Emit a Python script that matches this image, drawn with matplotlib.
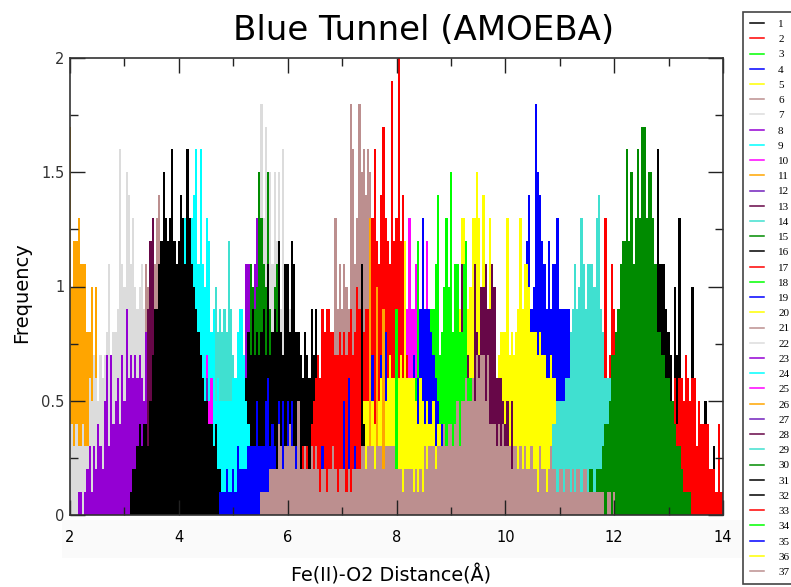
"""Blue Tunnel (AMOEBA) window histograms, Fe(II)-O2 distance."""
import numpy as np
import matplotlib
matplotlib.use("Agg")
import matplotlib.pyplot as plt
from matplotlib.lines import Line2D
from matplotlib.patches import Rectangle

### Counts per 0.04 A bin, one count is a frequency of 0.1
bin_width = 0.04
freq_unit = 0.1

freq_01 = [4,5,9,16,11,11,11,9,8,7,5,10,7,13,5,3,4,3,4,10,3,2,2,4,3,5,2,1,2,3]
freq_02 = [0,5,6,13,6,7,11,9,7,9,11,6,3,0,0,0,0,0,0,0,0,0,0,0,0,0,0,0,0,0,0,0,0,2,3,6,4,6,6,5,7,6,5,6,6,3,5,4,4,4,4,2,2,2,1,4,1,1]
freq_03 = [5,7,6]
freq_04 = [2,3,5,12,14,9,10,18,15,14,12,11,9,12,9,11,11,13,9,9,9,9,9,8,5,2]
freq_05 = [5,4,5,5,6,6,7,7,8,9,13,13,9,9,10,13,13,15,13,10,14,9,8,13,7,5,5,7,8,8,8,13,7,8,7,8,9,13,9,11,11,10,8,8,8,7,8,7,7,6,6,7,6,6,5,4,3,3,2,1]
freq_06 = [6,13,9,11,9,11,10,9,18,16,11,13,18,15,16,14,16,15,13,12,10,9,7,5]
freq_07 = [4,6,7,9,11,18,13,17,13,15,11,15,12,15,9,16,8,10,9,8,7,6,4,3]
freq_08 = [11,11,7,4,11,13,11,5,3,6,2]
freq_09 = [4,3,2]
freq_10 = [6,9,13,9,9,11,9,7,5,6,12,3]
freq_11 = [17,10,12,12,13,11,11,11,8,8,10,7,10,5,7,4,3,2,3,1]
freq_12 = [12,3,0,5]
freq_13 = [11,1,1,7,4,5,11,8,7,10,10,11,9,9,11,10,6,6,6,5,4,5,3,5,3]
freq_14 = [7,8,8,10,8,9,8,9,8,12,9,7,5,4]
freq_15 = [3,5,8,11,10,9,10,15,13,11,10,15,9,8,10,11,9,7,5,8,6,5,2]
freq_16 = [2,6,8,7,9,7,8,7,8,9,7,11,7,8,9,8,12,8,7,11,11,8,12,11,8,8,7,6,8,7,6,9,7,9,6,5,3,2]
freq_17 = [3,1,3,2,4,5,6,7,6,9,8,9,9,8,8,7,7,8,7,8,7,8,9,7,8,10,9,9,8,9,9,12,13,16,12,11,14,17,13,12,11,19,12,13,20,12,14,9,7,5,3]
freq_18 = [6,12,5,6,7,7,8,9,9,11,14,7,8,10,13,10,15,8,11,11,8,8,11,12,6,6,6,4]
freq_19 = [0,0,5,0,6,0,0,3,0,0,0,0,0,0,0,7,0,0,0,7,0,8,0,0,0,0,0,0,0,0,0,0,3,4,7,5,6,9,13,9,9,9,8,7,6,5,4,4,4,3,2,1]
freq_20 = [3,5,5,5,5,5,4,5,5,6,5,5,6,7,6,6,7,6,7,6,12,6,6,6,6,5,4,6,5,4,5,4,4,5,3,4,4,3,3,2,2]
freq_21 = [10,11,9,11,10,11,10,11,13,14,12,9,7]
freq_22 = [4,4,3,4,3,3,4,3,3,6,5,7,6,5,7,6,7,8,11,7,8,8,9,16,11,10,15,14,11,13,10,9,10,11,9,8,8,6,6,5,4,3]
freq_23 = [1,1,0,1,2,3,1,3,2,4,3,2,5,7,3,7,4,5,6,4,7,5,9,6,7,6,7,6,7,6,5,8,6,10,7,6,5]
freq_24 = [9,14,11,13,15,12,13,14,16,11,16,11,10,13,12,8,9,5,6,5,5,5,5,5,5,6,6,8,9,9,7,5,4,3,1]
freq_25 = [7,5,6]
freq_26 = [13,0,0,10,0,0,9]
freq_27 = [5,7,3,0,6,4]
freq_28 = [9,12,13,8,4]
freq_29 = [1,2,4,4,5,5,5,5,6,6,8,9,11,9,10,13,11,9,11,11,11,10,13,14,9,8,6,6,6,5,2]
freq_30 = [2,2,1,2,2,2,3,4,4,5,7,7,8,9,11,12,12,16,12,15,11,13,16,13,17,17,13,15,15,13,11,8,8,7,7,6,6,5,5,4,3,3,2,1,1,1,1]
freq_31 = [1,2,2,3,4,3,4,4,3,5,7,9,9,11,12,15,13,12,13,16,12,11,12,14,13,11,16,13,11,10,9,8,7,6,5,5,4,4,3,4,2,2]
freq_32 = [11,4]
freq_33 = [5,6,7,6,8,7,6,7]
freq_34 = [9,2]
freq_35 = [1,1,1,2,1,1,2,1,3,2,2,2,2,3,3,3,3,5,3,3,3,5,6,3,4,3,2,5,3,5,2,5,2,5,3,3,1,1,2,1,1,1,0,2,1,1,0,3,1]
freq_36 = [2,3,4,3]
freq_37 = [1,1,1,1,2,2,2,2,4,3,2,3,3,4,3,3,2,5,2,2,3,2,2,3,2,3,2,1,2,2,1,2,2,3,2,1,2,2,2,1,2,1,2,2,2,2,3,3,2,3,3,3,2,3,3,3,2,3,3,3,3,3,
           2,2,2,1,2,2,2,2,1,2,1,2,1,3,2,3,3,3,2,3,3,3,4,3,4,4,3,4,5,3,5,5,6,5,5,6,5,7,6,7,7,5,7,4,4,4,3,4,3,4,3,3,3,2,3,3,2,3,2,3,2,2,3,2,2,1,3,2,2,1,2,3,2,2,1,2,2,1,2,2,1,2,1,2,2,1,2,2,1,1,1,1,1,1,1,1,0,1,1,0,1]

all_freq = [freq_01, freq_02, freq_03, freq_04, freq_05, freq_06, freq_07, freq_08, freq_09,
            freq_10, freq_11, freq_12, freq_13, freq_14, freq_15, freq_16, freq_17, freq_18,
            freq_19, freq_20, freq_21, freq_22, freq_23, freq_24, freq_25, freq_26, freq_27,
            freq_28, freq_29, freq_30, freq_31, freq_32, freq_33, freq_34, freq_35, freq_36, freq_37]

# distance of the first bin of each window
start_dist = [12.68, 11.72, 9.0, 10.28, 8.8, 6.84, 5.32, 5.24, 4.88, 8.16, 2.0, 3.04, 9.2,
              4.56, 5.2, 5.2, 6.28, 8.36, 6.96, 7.36, 3.28, 2.0, 2.16, 4.0, 4.52, 7.52, 4.36,
              3.44, 10.8, 11.56, 3.12, 7.36, 6.6, 8.0, 4.76, 8.4, 5.52]

series_labels = [str(i) for i in range(1, 38)]
x_ticks = [2, 4, 6, 8, 10, 12, 14]
y_ticks = [0, 0.5, 1, 1.5, 2]
y_tick_labels = ["0", "0.5", "1", "1.5", "2"]

grace_colors = ["#000000", "#ff0000", "#00ff00", "#0000ff", "#ffff00", "#bc8f8f", "#dcdcdc",
                "#9400d3", "#00ffff", "#ff00ff", "#ffa500", "#7221bc", "#670748", "#40e0d0", "#008b00"]
colors = [grace_colors[i % 15] for i in range(37)]
colors[31] = "#000000"
colors[32:] = ["#ff0000", "#00ff00", "#0000ff", "#ffff00", "#bc8f8f"]

fig = plt.figure(figsize=(7.91, 5.87), dpi=100)

# faint band behind the x tick labels
fig.add_artist(Rectangle((62/791, 1-558/587), 680/791, 38/587, transform=fig.transFigure,
                         color="#fafafa", lw=0, zorder=0))

ax = fig.add_axes([70/791, 1-515/587, 653/791, 457/587])

for counts, start, c in zip(all_freq, start_dist, colors):
    counts = np.array(counts)
    dist = start + bin_width*np.arange(len(counts))
    ax.bar(dist, counts*freq_unit, width=bin_width, color=c, lw=0)

ax.set_xlim(2, 14)
ax.set_ylim(0, 2)
ax.set_xticks(x_ticks)
ax.set_xticks(range(3, 14, 2), minor=True)
ax.set_yticks(y_ticks)
ax.set_yticklabels(y_tick_labels, color="#333333")
ax.set_yticks([0.25, 0.75, 1.25, 1.75], minor=True)
ax.tick_params(which="both", direction="in", top=True, right=True, color="#222222")
ax.tick_params(which="major", length=11, width=1, labelsize=10.5)
ax.tick_params(which="minor", length=6, width=1)
ax.tick_params(axis="y", which="major", pad=4)
ax.tick_params(axis="x", which="major", pad=10.5)
for s in ax.spines.values():
    s.set_linewidth(1.2)
    s.set_color("#333333")

fig.text(424/791, 1-30/587, "Blue Tunnel (AMOEBA)", fontsize=24.5, ha="center", va="center")
fig.text(391/791, 1-575/587, "Fe(II)-O2 Distance(Å)", fontsize=13.8, ha="center", va="center")
fig.text(22/791, 1-293/587, "Frequency", fontsize=14, rotation=90, ha="center", va="center")

### Legend with one entry per window
handles = [Line2D([], [], color=c, lw=1.1) for c in colors]
leg = fig.legend(handles, series_labels, loc="upper left", bbox_to_anchor=(743/791, 1-12/587),
                 borderaxespad=0, fancybox=False, edgecolor="#444444", framealpha=1,
                 prop={"family": "Liberation Serif", "size": 8}, labelspacing=0.49,
                 handlelength=1.26, handletextpad=1.25, borderpad=0.65)
leg.get_frame().set_linewidth(1.2)

plt.savefig("out.png", dpi=100)
